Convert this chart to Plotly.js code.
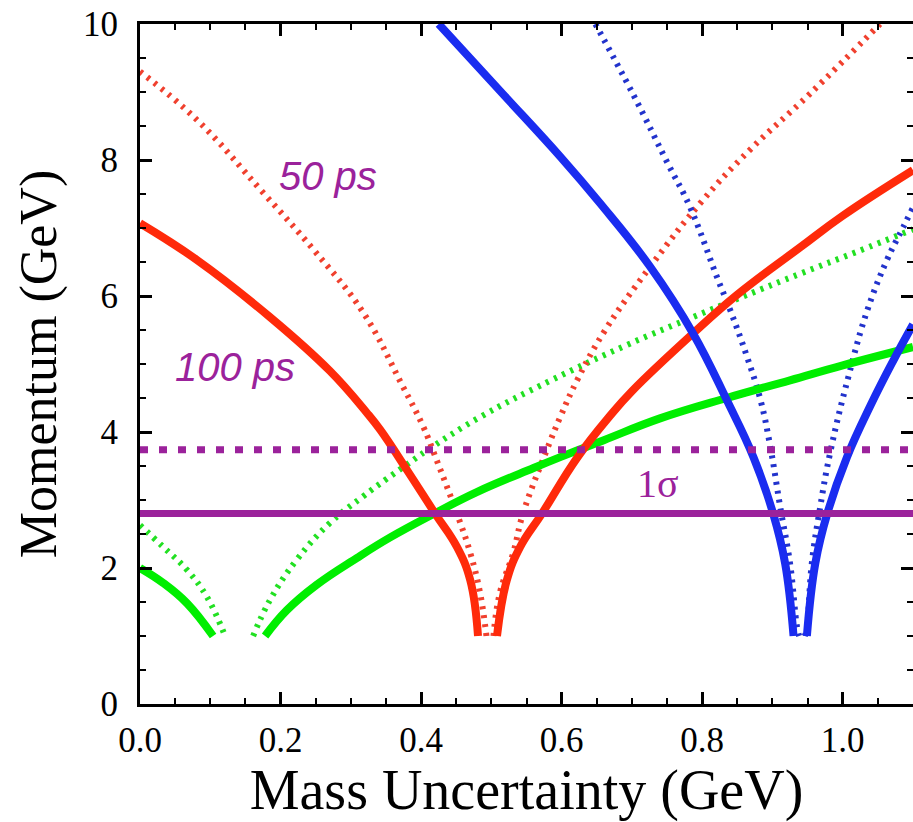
<!DOCTYPE html>
<html>
<head>
<meta charset="utf-8">
<script src="https://cdn.plot.ly/plotly-3.0.1.min.js"></script>
<style>
  html, body { margin: 0; padding: 0; background: #ffffff; }
  #chart { width: 913px; height: 822px; }
</style>
</head>
<body>
<div id="chart"></div>
<script>
// ---- Data (x = mass uncertainty GeV, y = momentum GeV) ----
// Pion (green), 100 ps (solid)
const pion100LeftX  = [0.0, 0.033, 0.067, 0.104];
const pion100LeftY  = [2.0, 1.78, 1.48, 1.0];
const pion100RightX = [0.178, 0.209, 0.251, 0.309, 0.356, 0.415, 0.48, 0.560, 0.598, 0.660, 0.740, 0.835, 0.925, 1.0, 1.1];
const pion100RightY = [1.0, 1.38, 1.75, 2.15, 2.45, 2.78, 3.12, 3.47, 3.63, 3.88, 4.20, 4.50, 4.76, 4.98, 5.25];
// Pion (green), 50 ps (dotted)
const pion50LeftX  = [0.0, 0.033, 0.067, 0.095, 0.121];
const pion50LeftY  = [2.63, 2.31, 1.97, 1.58, 1.0];
const pion50RightX = [0.161, 0.185, 0.223, 0.270, 0.317, 0.351, 0.377, 0.410, 0.484, 0.585, 0.693, 0.787, 0.860, 0.940, 1.02, 1.1];
const pion50RightY = [1.0, 1.53, 2.12, 2.66, 3.05, 3.31, 3.50, 3.74, 4.22, 4.76, 5.28, 5.69, 6.0, 6.33, 6.65, 6.98];
// Kaon (red), 100 ps (solid)
const kaon100LeftX  = [0.0, 0.081, 0.185, 0.270, 0.323, 0.342, 0.380, 0.420, 0.451, 0.470, 0.481];
const kaon100LeftY  = [7.07, 6.53, 5.69, 4.90, 4.28, 4.03, 3.44, 2.80, 2.31, 1.82, 1.0];
const kaon100RightX = [0.508, 0.522, 0.541, 0.572, 0.622, 0.669, 0.700, 0.787, 0.850, 0.940, 1.0, 1.1];
const kaon100RightY = [1.0, 1.82, 2.31, 2.80, 3.62, 4.24, 4.60, 5.45, 6.02, 6.72, 7.18, 7.85];
// Kaon (red), 50 ps (dotted)
const kaon50LeftX  = [0.0, 0.081, 0.176, 0.247, 0.318, 0.373, 0.403, 0.422, 0.451, 0.470, 0.484, 0.493];
const kaon50LeftY  = [9.30, 8.59, 7.51, 6.68, 5.75, 4.69, 4.08, 3.59, 2.80, 2.22, 1.63, 1.0];
const kaon50RightX = [0.503, 0.512, 0.531, 0.545, 0.579, 0.598, 0.622, 0.659, 0.726, 0.801, 0.868, 0.954, 1.053];
const kaon50RightY = [1.0, 1.63, 2.22, 2.80, 3.74, 4.22, 4.76, 5.45, 6.43, 7.41, 8.15, 8.98, 10.0];
// Proton (blue), 100 ps (solid)
const proton100LeftX  = [0.425, 0.512, 0.598, 0.655, 0.726, 0.787, 0.835, 0.873, 0.901, 0.918, 0.930];
const proton100LeftY  = [10.0, 9.02, 8.05, 7.36, 6.43, 5.45, 4.47, 3.63, 2.80, 2.07, 1.0];
const proton100RightX = [0.949, 0.961, 0.978, 1.006, 1.040, 1.072, 1.1];
const proton100RightY = [1.0, 2.07, 2.80, 3.63, 4.40, 5.05, 5.58];
// Proton (blue), 50 ps (dotted)
const proton50LeftX  = [0.648, 0.702, 0.750, 0.783, 0.821, 0.840, 0.864, 0.883, 0.897, 0.911, 0.925, 0.935, 0.938];
const proton50LeftY  = [10.0, 8.96, 7.97, 7.30, 6.28, 5.79, 5.10, 4.47, 3.78, 2.90, 2.07, 1.13, 1.0];
const proton50RightX = [0.946, 0.949, 0.956, 0.968, 0.982, 1.008, 1.035, 1.063, 1.086, 1.1];
const proton50RightY = [1.0, 1.13, 2.07, 2.90, 3.69, 4.81, 5.79, 6.53, 7.01, 7.30];
// 1-sigma momentum limits (horizontal lines)
const limitX = [0.0, 1.1];
const limit100 = 2.80;
const limit50  = 3.74;
// Axis ticks
const xTickVals = [0.0, 0.2, 0.4, 0.6, 0.8, 1.0];
const xTickText = ["0.0", "0.2", "0.4", "0.6", "0.8", "1.0"];
const yTickVals = [0, 2, 4, 6, 8, 10];
const yTickText = ["0", "2", "4", "6", "8", "10"];
// Labels
const label50 = "50 ps";
const label100 = "100 ps";
const labelSigma = "1\u03c3";

// ---- Styles ----
const RED = "#ff2a0a", GREEN = "#00ee00", BLUE = "#1a2cf0", PURPLE = "#9b229b";
const RED_D = "#f0402e", GREEN_D = "#22e022", BLUE_D = "#2233cc";

function solid(x, y, color) {
  return { x: x, y: y, type: "scatter", mode: "lines", hoverinfo: "skip",
           line: { color: color, width: 8, shape: "spline", smoothing: 1.2 } };
}
function dotted(x, y, color) {
  return { x: x, y: y, type: "scatter", mode: "lines", hoverinfo: "skip",
           line: { color: color, width: 6, dash: "3px,6px", shape: "spline", smoothing: 1.2 } };
}

const traces = [
  dotted(pion50LeftX, pion50LeftY, GREEN_D),
  dotted(pion50RightX, pion50RightY, GREEN_D),
  dotted(kaon50LeftX, kaon50LeftY, RED_D),
  dotted(kaon50RightX, kaon50RightY, RED_D),
  dotted(proton50LeftX, proton50LeftY, BLUE_D),
  dotted(proton50RightX, proton50RightY, BLUE_D),
  solid(pion100LeftX, pion100LeftY, GREEN),
  solid(pion100RightX, pion100RightY, GREEN),
  solid(kaon100LeftX, kaon100LeftY, RED),
  solid(kaon100RightX, kaon100RightY, RED),
  solid(proton100LeftX, proton100LeftY, BLUE),
  solid(proton100RightX, proton100RightY, BLUE),
  { x: limitX, y: [limit100, limit100], type: "scatter", mode: "lines", hoverinfo: "skip",
    line: { color: PURPLE, width: 7 } },
  { x: limitX, y: [limit50, limit50], type: "scatter", mode: "lines", hoverinfo: "skip",
    line: { color: PURPLE, width: 7, dash: "8px,11px" } }
];

const serif = "Liberation Serif, Times New Roman, serif";
const axisCommon = {
  showgrid: false, zeroline: false,
  showline: true, linecolor: "#000", linewidth: 3, mirror: "allticks",
  ticks: "inside", ticklen: 12, tickwidth: 3, tickcolor: "#000",
  tickfont: { family: serif, size: 35, color: "#000" },
  automargin: false
};

const layout = {
  width: 913, height: 822,
  margin: { l: 140, r: 0, t: 24, b: 118 },
  paper_bgcolor: "#fff", plot_bgcolor: "#fff",
  showlegend: false,
  xaxis: Object.assign({}, axisCommon, {
    range: [0, 1.1],
    tickmode: "array", tickvals: xTickVals, ticktext: xTickText,
    ticklabelstandoff: 3,
    minor: { dtick: 0.05, tick0: 0, ticks: "inside", ticklen: 6, tickwidth: 2, tickcolor: "#000", showgrid: false },
    title: { text: "Mass Uncertainty (GeV)", font: { family: serif, size: 56, color: "#000" }, standoff: 14 }
  }),
  yaxis: Object.assign({}, axisCommon, {
    range: [0, 10],
    tickmode: "array", tickvals: yTickVals, ticktext: yTickText,
    ticklabelstandoff: 12,
    minor: { dtick: 0.5, tick0: 0, ticks: "inside", ticklen: 6, tickwidth: 2, tickcolor: "#000", showgrid: false },
    title: { text: "Momentum (GeV)", font: { family: serif, size: 52, color: "#000" }, standoff: 10 }
  }),
  annotations: [
    { x: 0.268, y: 7.76, xref: "x", yref: "y", text: label50, showarrow: false,
      font: { family: "Liberation Sans, Arial, sans-serif", size: 40, color: PURPLE, style: "italic" } },
    { x: 0.135, y: 4.96, xref: "x", yref: "y", text: label100, showarrow: false,
      font: { family: "Liberation Sans, Arial, sans-serif", size: 40, color: PURPLE, style: "italic" } },
    { x: 0.737, y: 3.25, xref: "x", yref: "y", text: labelSigma, showarrow: false,
      font: { family: serif, size: 40, color: PURPLE } }
  ]
};

Plotly.newPlot("chart", traces, layout, { staticPlot: true, displayModeBar: false });
</script>
</body>
</html>
